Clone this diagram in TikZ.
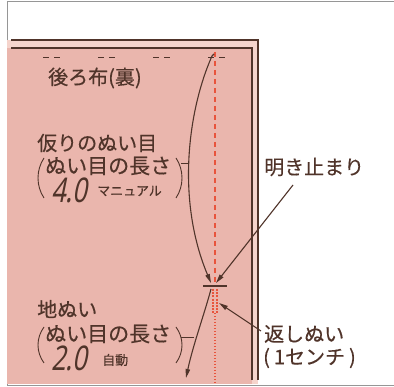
\documentclass[tikz,border=0pt]{standalone}
\usepackage{fontspec}
\usetikzlibrary{arrows.meta}
\newfontfamily\jpfont[FakeBold=0.4]{Noto Sans CJK JP}
\newfontfamily\lcdfont[FakeSlant=0.2,FakeStretch=0.75]{Noto Sans}
\definecolor{fabric}{RGB}{234,182,173}
\definecolor{fabrictop}{RGB}{245,212,204}
\definecolor{ink}{RGB}{80,52,42}
\definecolor{stitch}{RGB}{232,84,60}
\definecolor{frame}{RGB}{150,150,150}
\tikzset{
  jptext/.style={font=\jpfont\fontsize{20}{20}\selectfont, text=ink, inner sep=0pt, anchor=west},
  lentext/.style={jptext, font=\jpfont\fontsize{21}{21}\selectfont},
  smalltext/.style={jptext, font=\jpfont\fontsize{13}{13}\selectfont},
  lcdtext/.style={font=\lcdfont\fontsize{34}{34}\selectfont, text=ink, inner sep=0pt, anchor=west},
  guide/.style={draw=ink, line width=1.1pt},
  pointer/.style={guide, -{Triangle[length=9pt,width=4.5pt]}},
  paren/.style={draw=ink, line width=0.9pt},
  baste/.style={draw=stitch, line width=1.2pt, dash pattern=on 5pt off 4pt},
}
\begin{document}
\begin{tikzpicture}[x=1pt,y=-1pt]
    \useasboundingbox (0,0) rectangle (394,387);
    % Frame
    \draw[frame, line width=0.8pt] (394,1) -- (7,1) -- (7,385) -- (394,385);
    % Fabric, two layers
    \fill[fabrictop] (7,40) rectangle (258,384);
    \fill[fabric] (7,48) rectangle (252,384);
    \draw[guide, line width=1.2pt] (11,40) -- (258,40) -- (258,380);
    \draw[guide, line width=1.2pt] (11,48) -- (252,48) -- (252,380);
    % Basting marks
    \foreach \x in {43,98,...,208}
      \draw[guide, line width=1pt] (\x,58) -- ++(6,0) (\x+11,58) -- ++(6,0);
    % Seam line
    \draw[baste] (215,52) -- (215,283);
    \draw[stitch, line width=1.3pt, dash pattern=on 2pt off 1.2pt] (213,289) -- (213,313) (217,289) -- (217,313);
    \draw[stitch, line width=1.3pt, dash pattern=on 1.5pt off 1.5pt] (215,313) -- (215,384);
    % Stop mark
    \coordinate (stopW) at (203,286);
    \coordinate (stopE) at (227,286);
    \draw[guide] (stopW) -- (stopE);
    % Labels
    \node[jptext] (uraLabel) at (48,78) {後ろ布(裏)};
    \node[jptext] (kariLabel) at (37,143) {仮りのぬい目};
    \node[lentext] (kariLen) at (45,166) {ぬい目の長さ};
    \node[lcdtext] (kariVal) at (51,190) {4.0};
    \node[smalltext] (kariMode) at (97,191) {マニュアル};
    \node[jptext] (akidomeLabel) at (264,167) {明き止まり};
    \node[jptext] (jiLabel) at (37,309) {地ぬい};
    \node[lentext] (jiLen) at (45,334) {ぬい目の長さ};
    \node[lcdtext] (jiVal) at (51,358) {2.0};
    \node[smalltext] (jiMode) at (102,360) {自動};
    \node[jptext] (kaeshiLabel) at (264,334) {返しぬい};
    \node[jptext] (kaeshiSub) at (263,358) {(\kern4pt1センチ\kern4pt)};
    % Brackets
    \draw[paren] (44,158) .. controls (36,170) and (36,186) .. (44,198);
    \draw[paren] (176,158) .. controls (184,170) and (184,186) .. (176,198);
    \draw[paren] (44,327) .. controls (36,338) and (36,352) .. (44,363);
    \draw[paren] (176,327) .. controls (184,338) and (184,352) .. (176,363);
    \draw[guide, line width=0.9pt] (181,163) -- (189,163);
    \draw[guide, line width=0.9pt] (181,337) -- (194,337);
    % Arrows
    \coordinate (seamTop) at (212,56);
    \coordinate (stopL) at (211,283);
    \coordinate (stopR) at (216,283);
    \coordinate (akidomeFoot) at (293,185);
    \coordinate (tackStart) at (211,289);
    \coordinate (jiEnd) at (186,378);
    \coordinate (tackPoint) at (219,303);
    \coordinate (kaeshiFoot) at (261,331);
    \draw[pointer] (214,54) -- (seamTop) .. controls (188,110) and (176,200) .. (stopL);
    \draw[pointer] (akidomeFoot) -- (stopR);
    \draw[pointer] (tackStart) .. controls (205,312) and (193,345) .. (jiEnd);
    \draw[pointer] (kaeshiFoot) -- (tackPoint);
  \end{tikzpicture}
\end{document}
